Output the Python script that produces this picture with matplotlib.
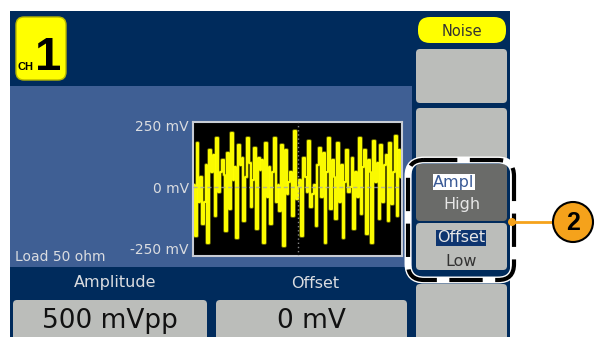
import matplotlib
matplotlib.use("Agg")
import matplotlib.pyplot as plt
from matplotlib.patches import FancyBboxPatch, Rectangle, Circle
import matplotlib.patheffects as pe
import numpy as np

# ---- data ----
noise_mv = [
    10, -200, 180, -60, 40, -150, -60, 90, -230, 150,
    60, 130, -120, 200, -20, 60, 110, 50, -180, 140,
    -90, 220, 30, 80, -210, 170, 90, 120, -140, 40,
    200, 100, -80, 30, 160, -170, 120, 70, 110, -230,
    180, -40, 80, -150, 60, 200, -60, 10, -100, 170,
    -240, 150, -30, 20, 60, -120, 230, -50, 0, 30,
    -200, 120, 40, -20, 190, -80, -30, 10, -160, 90,
    160, -40, 140, -230, 60, 200, -90, 110, 40, -130,
    180, -60, 90, -210, 20, 150, -20, 0, 120, -170,
    60, -40, 200, -110, 80, 150, -190, 110, 60, -230,
    190, 20, 100, -130, 170, -60, 90, 130, -140, 180,
    -70, 60, 210, -120, 150, 40,
]
y_ticks = [-250, 0, 250]
y_tick_labels = ["-250 mV", "0 mV", "250 mV"]
channel_label = "1"
waveform = "Noise"
param_names = ["Amplitude", "Offset"]
param_values = ["500 mVpp", "0 mV"]
load_text = "Load 50 ohm"

W, H = 595, 337
NAVY = "#002B5C"
PANEL = "#3F5F94"
GRAY = "#BBBDBA"
DGRAY = "#6A6B69"
LT = "#DADCE0"
ORANGE = "#F5A21B"
FONT = "DejaVu Sans"

fig = plt.figure(figsize=(W / 100, H / 100), dpi=100)
fig.patch.set_facecolor("white")
bg = fig.add_axes([0, 0, 1, 1])
bg.set_xlim(0, W)
bg.set_ylim(H, 0)
bg.axis("off")

def rbox(x, y, w, h, fc, r=4, ec="none", lw=0, z=1):
    p = FancyBboxPatch((x, y), w, h, boxstyle=f"round,pad=0,rounding_size={r}",
                       fc=fc, ec=ec, lw=lw, zorder=z)
    bg.add_patch(p)
    return p

# main backgrounds
bg.add_patch(Rectangle((10, 11), 500, 330, fc=NAVY, ec="none", zorder=0))
bg.add_patch(Rectangle((10, 86), 402, 181, fc=PANEL, ec="none", zorder=0.5))

# channel badge
rbox(16, 17, 50, 63, "#FFFF00", r=8, ec="#B8B800", lw=1, z=2)
bg.text(18, 70, "CH", fontsize=8, fontweight="bold", family="Liberation Sans",
        color="black", va="baseline", ha="left", zorder=3)
bg.text(48, 70, channel_label, fontsize=34, fontweight="bold", family="Liberation Sans",
        color="black", va="baseline", ha="center", zorder=3)

# right side menu
rbox(418, 17, 88, 26, "#FFFF00", r=12, z=2)
bg.text(462, 31, waveform, fontsize=10.5, family=FONT, color="#333333",
        ha="center", va="center", zorder=3)
rbox(416, 49, 91, 54, GRAY, r=4, z=2)
rbox(416, 108, 91, 53, GRAY, r=4, z=2)
rbox(416, 164, 91, 57, DGRAY, r=4, z=2)
rbox(416, 223, 91, 47, GRAY, r=4, z=2)
rbox(416, 284, 91, 60, GRAY, r=4, z=2)

# Ampl / High
t = bg.text(454, 182, "Ampl", fontsize=11.5, family=FONT, color="#3A5A96",
            ha="center", va="center", zorder=4)
t.set_bbox(dict(fc="white", ec="none", pad=0.5))
bg.text(462, 205, "High", fontsize=11.5, family=FONT, color="#E6E6E6",
        ha="center", va="center", zorder=4)
t = bg.text(461, 238, "Offset", fontsize=11.5, family=FONT, color="#E6E6E6",
            ha="center", va="center", zorder=4)
t.set_bbox(dict(fc="#0E3570", ec="none", pad=0.5))
bg.text(461, 262, "Low", fontsize=11.5, family=FONT, color="#333333",
        ha="center", va="center", zorder=4)

# dashed highlight frame
rbox(408, 160, 106, 120, "none", r=16, ec="white", lw=5, z=5)
p = rbox(408, 160, 106, 120, "none", r=16, ec="black", lw=3, z=6)
p.set_linestyle((0, (8, 3)))

# callout
bg.plot([512, 553], [222, 222], color=ORANGE, lw=2, zorder=7)
bg.add_patch(Circle((512, 222), 4, fc=ORANGE, ec="none", zorder=8))
bg.add_patch(Circle((573, 222), 20, fc=ORANGE, ec="black", lw=1.5, zorder=8))
bg.text(573, 223, "2", fontsize=18, fontweight="bold", family="Liberation Sans",
        color="black", ha="center", va="center", zorder=9)

# bottom parameter area
bg.text(15, 257, load_text, fontsize=10, family=FONT, color=LT,
        ha="left", va="center", zorder=3)
for cx, name in zip([115, 315], param_names):
    bg.text(cx, 283, name, fontsize=11.5, family=FONT, color=LT,
            ha="center", va="center", zorder=3)
for (x0, w), val in zip([(13, 194), (216, 191)], param_values):
    rbox(x0, 300, w, 50, GRAY, r=4, z=2)
    bg.text(x0 + w / 2, 321, val, fontsize=19, family=FONT, color="#111111",
            ha="center", va="center", zorder=3)

# waveform axes
ax = fig.add_axes([193 / W, 1 - 256 / H, 209 / W, 134 / H])
ax.set_facecolor("black")
x = np.arange(len(noise_mv))
ax.plot(x, noise_mv, color="#FFFF00", lw=1.4, drawstyle="steps-mid", zorder=2,
        path_effects=[pe.Stroke(linewidth=2.6, foreground="#6B6B00"), pe.Normal()])
ax.axhline(0, color="#A8A8A8", lw=1, ls=(0, (3, 2)), zorder=3, alpha=0.8)
ax.axvline((len(noise_mv) - 1) / 2, color="#A8A8A8", lw=1, ls=(0, (1, 2)), zorder=3, alpha=0.8)
ax.set_xlim(-0.5, len(noise_mv) - 0.5)
ax.set_ylim(-282, 266)
ax.set_xticks([])
ax.set_yticks(y_ticks)
ax.set_yticklabels(y_tick_labels, fontsize=10, family=FONT, color=LT)
ax.tick_params(axis="y", length=0, pad=3)
for s in ax.spines.values():
    s.set_color("#C8CCD4")
    s.set_linewidth(1.5)

fig.savefig("out.png", dpi=100, facecolor="white")
